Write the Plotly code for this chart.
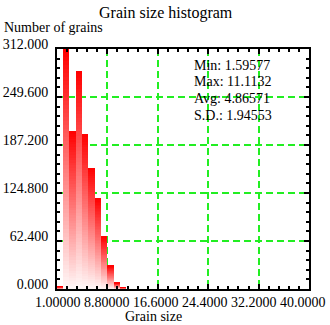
import plotly.graph_objects as go

# ---- data ----
bin_centers = [1.44, 2.42, 3.40, 4.38, 5.36, 6.34, 7.32, 8.30, 9.28, 10.26, 11.24]
bin_counts = [3, 312, 205, 284, 201, 157, 118, 68, 30, 8, 2]
bin_width = 0.98

x_tick_vals = [1.0, 8.8, 16.6, 24.4, 32.2, 40.0]
x_tick_labels = ["1.00000", "8.80000", "16.6000", "24.4000", "32.2000", "40.0000"]
y_tick_vals = [0.0, 62.4, 124.8, 187.2, 249.6, 312.0]
y_tick_labels = ["0.000", "62.400", "124.800", "187.200", "249.600", "312.000"]

stats_labels = ["Min", "Max", "Avg", "S.D."]
stats_values = ["1.59577", "11.1132", "4.86571", "1.94553"]

FONT = "Liberation Serif"
N = 60

fig = go.Figure()
for k in range(N):
    t = (k + 0.5) / N
    g = int(round(255 * (1 - t) * 0.97))
    color = f"rgb(255,{g},{g})"
    fig.add_trace(go.Bar(
        x=bin_centers,
        y=[c / N for c in bin_counts],
        base=[c * k / N for c in bin_counts],
        width=bin_width,
        marker=dict(color=color, line=dict(width=0)),
        showlegend=False,
        hoverinfo="skip",
    ))

fig.update_layout(
    width=330, height=325,
    margin=dict(l=57, r=21, t=49, b=36, autoexpand=False),
    paper_bgcolor="white", plot_bgcolor="white",
    barmode="overlay", bargap=0,
    font=dict(family=FONT, size=14, color="black"),
    showlegend=False,
)

grid = dict(showgrid=True, gridcolor="#22ee22", gridwidth=2, griddash="7px,4px")
fig.update_xaxes(
    range=[1, 40], tickmode="array", tickvals=x_tick_vals, showticklabels=False,
    ticks="inside", ticklen=5, tickwidth=2, tickcolor="black",
    showline=True, linecolor="black", linewidth=2, mirror="allticks",
    minor=dict(dtick=1.56, tick0=1, ticks="inside", ticklen=3, tickwidth=1.5, tickcolor="black", showgrid=False),
    zeroline=False, automargin=False, **grid,
)
fig.update_yaxes(
    range=[0, 312], tickmode="array", tickvals=y_tick_vals, ticktext=y_tick_labels,
    ticks="inside", ticklen=5, tickwidth=2, tickcolor="black",
    showline=True, linecolor="black", linewidth=2, mirror="allticks",
    minor=dict(dtick=12.48, tick0=0, ticks="inside", ticklen=3, tickwidth=1.5, tickcolor="black", showgrid=False),
    zeroline=False, ticklabelshift=-5, ticklabelstandoff=4, automargin=False,
    tickfont=dict(family=FONT, size=14), **grid,
)

ann_list = [
    dict(text="Grain size histogram", px=166, py=13, size=16, anchor="center"),
    dict(text="Number of grains", px=2, py=27, size=14, anchor="left"),
    dict(text=" ".join(x_tick_labels), px=180, py=302, size=14, anchor="center"),
    dict(text="Grain size", px=153.5, py=316, size=14, anchor="center"),
]
for i, (lab, val) in enumerate(zip(stats_labels, stats_values)):
    ann_list.append(dict(text=f"{lab}: {val}", px=191.5, py=65 + i * 16.7, size=14, anchor="left"))

pl, pr, pt, pb = 57, 309, 49, 289
for a in ann_list:
    fig.add_annotation(
        text=a["text"], showarrow=False,
        xref="paper", yref="paper",
        x=(a["px"] - pl) / (pr - pl), y=(pb - a["py"]) / (pb - pt),
        xanchor=a["anchor"], yanchor="middle",
        font=dict(family=FONT, size=a["size"], color="black"),
    )

fig.write_html("out.html", config={"displayModeBar": False},
               post_script="document.body.style.margin='0';")
